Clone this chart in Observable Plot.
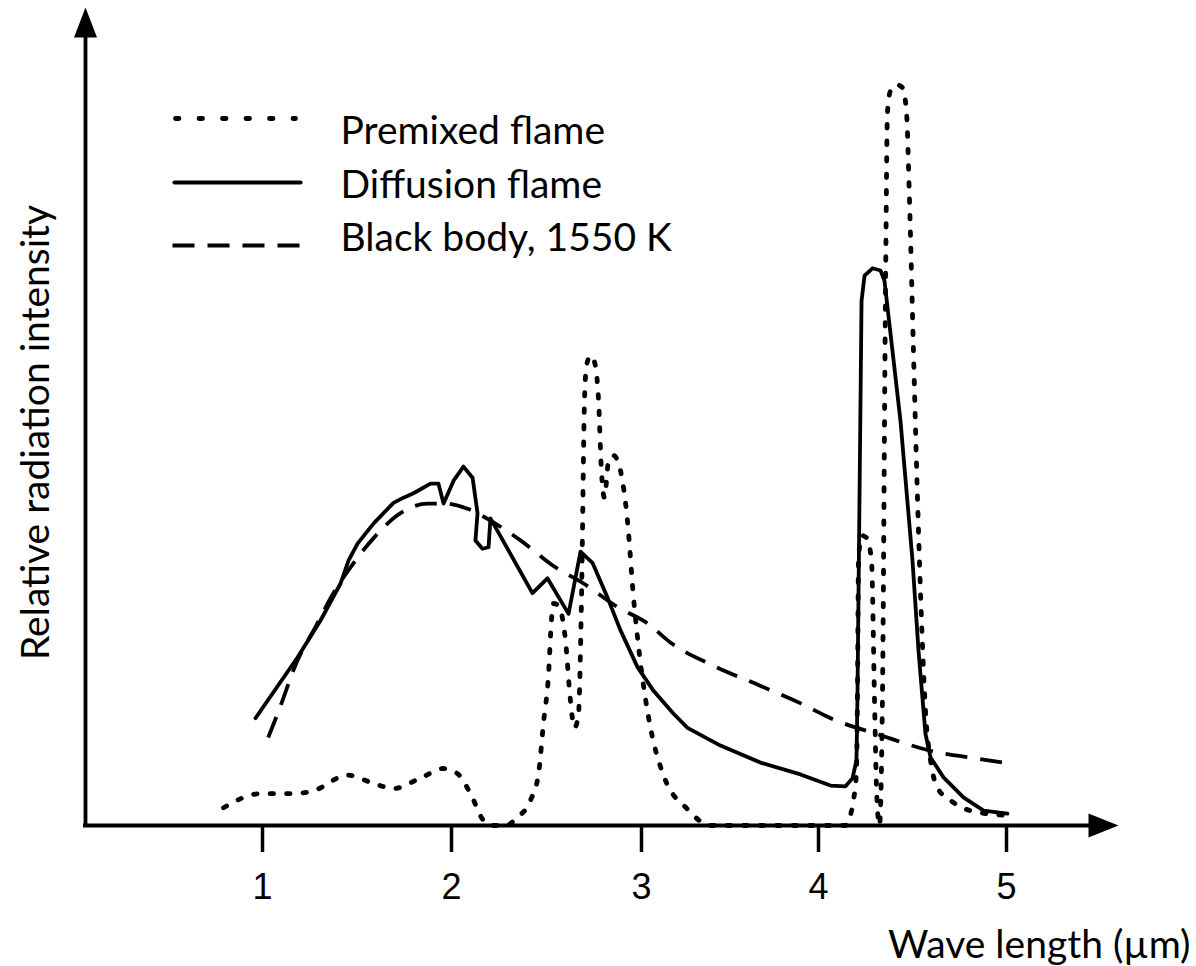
<!DOCTYPE html>
<html>
<head>
<meta charset="utf-8">
<script src="https://cdn.jsdelivr.net/npm/d3@7"></script>
<script src="https://cdn.jsdelivr.net/npm/@observablehq/plot@0.6"></script>
<style>
  html, body { margin: 0; padding: 0; background: #fff; }
  #chart svg { display: block; }
</style>
</head>
<body>
<div id="chart"></div>
<script>
// ---------- data ----------
const X_TICKS = [1, 2, 3, 4, 5];
const X_LABEL = "Wave length (µm)";
const Y_LABEL = "Relative radiation intensity";
const SERIES_NAMES = ["Premixed flame", "Diffusion flame", "Black body, 1550 K"];

const PREMIXED_X = [0.794,0.989,1.164,1.270,1.450,1.587,1.693,1.836,1.958,2.032,2.100,2.168,2.216,2.284,2.347,2.416,2.458,2.484,2.511,2.526,2.537,2.563,2.600,2.626,2.647,2.668,2.684,2.700,2.711,2.732,2.753,2.774,2.789,2.805,2.826,2.853,2.889,2.926,2.958,2.995,3.051,3.124,3.260,3.390,4.144,4.170,4.186,4.202,4.207,4.213,4.229,4.255,4.282,4.298,4.309,4.324,4.340,4.356,4.367,4.383,4.415,4.447,4.468,4.484,4.505,4.527,4.548,4.569,4.596,4.633,4.702,4.809,4.984];
const PREMIXED_Y = [2.4,4.3,4.3,4.7,6.8,5.7,5.0,6.4,7.7,7.0,4.3,0.7,0,0,1.1,3.4,7.0,13.8,20.5,27.7,30.0,29.7,25.0,16.9,13.2,14.9,30.4,57.4,62.2,63.5,62.6,57.4,48.0,44.3,49.1,50.0,48.0,41.2,30.8,21.9,13.2,6.8,2.2,0,0,1.4,3.4,7.4,16.9,35.8,39.2,38.9,35.8,16.9,4.7,0,16.9,70.9,96.4,99.3,100.1,99.7,96.4,84.5,64.2,43.9,27.7,15.5,8.8,5.1,3.4,2.0,1.4];

const DIFFUSION_X = [0.963,1.185,1.307,1.413,1.455,1.503,1.587,1.693,1.746,1.799,1.889,1.931,1.958,2.011,2.063,2.111,2.137,2.126,2.163,2.195,2.205,2.426,2.505,2.616,2.679,2.742,2.821,2.889,2.979,3.068,3.181,3.260,3.446,3.672,3.898,4.064,4.144,4.181,4.202,4.207,4.218,4.229,4.245,4.287,4.330,4.351,4.436,4.500,4.532,4.569,4.596,4.665,4.771,4.878,5.005];
const DIFFUSION_Y = [14.5,22.7,27.7,32.7,35.8,38.1,40.8,43.6,44.3,44.9,46.2,46.2,43.5,46.6,48.5,47.0,42.2,38.5,37.4,37.6,41.5,31.4,33.4,28.6,37.0,35.5,30.8,26.4,21.4,18.2,15.1,13.2,10.8,8.5,6.9,5.4,5.3,6.4,8.8,16.9,43.9,70.9,74.3,75.3,75.0,73.6,54.7,35.8,23.6,12.4,9.2,6.5,3.8,2.0,1.6];

const BLACKBODY_X = [1.03,1.08,1.185,1.28,1.375,1.48,1.59,1.73,1.875,1.96,2.085,2.205,2.365,2.535,2.695,2.875,3.035,3.165,3.405,3.67,3.9,4.065,4.33,4.595,4.825,5.01];
const BLACKBODY_Y = [11.9,15.1,22.3,26.8,31.4,35.4,38.9,42.2,43.5,43.5,42.8,41.2,38.5,35.1,32.7,29.5,27.3,24.7,21.6,18.9,16.5,14.5,12.2,10.1,9.1,8.4];

// ---------- layout ----------
const W = 1196, H = 966;
const FRAME = { left: 85, top: 85, right: 1190, bottom: 825 };
const X_TICK_POS = [262, 451, 641, 818, 1006];   // the reference's (uneven) tick positions
const Y_DOMAIN = [0, 100];
const FONT = "Lato";
const TICK_FONT = "Liberation Sans";
const TEXT_SIZE = 39;
const TICK_SIZE = 36;
const LINE_W = 3.8;

const xS = d3.scaleLinear().domain(X_TICKS).range(X_TICK_POS);
const yS = d3.scaleLinear().domain(Y_DOMAIN).range([FRAME.bottom, FRAME.top]);

const rows = (xs, ys) => xs.map((x, i) => ({ x, y: ys[i] }));
const premixed = rows(PREMIXED_X, PREMIXED_Y);
const diffusion = rows(DIFFUSION_X, DIFFUSION_Y);
const blackbody = rows(BLACKBODY_X, BLACKBODY_Y);

const DOTTED = { strokeWidth: 4.8, strokeDasharray: "3.5,13", strokeLinecap: "round" };
const DASHED = { strokeWidth: LINE_W, strokeDasharray: "22,13", strokeLinecap: "butt" };

// arrow heads (filled, elongated)
const arrowUp = { draw(ctx) { ctx.moveTo(0, -30); ctx.lineTo(11.5, 0); ctx.lineTo(-11.5, 0); ctx.closePath(); } };
const arrowRight = { draw(ctx) { ctx.moveTo(30, 0); ctx.lineTo(0, 12); ctx.lineTo(0, -12); ctx.closePath(); } };

// legend layout (pixels -> data through the same scales)
const LEG = [
  { name: SERIES_NAMES[0], y: 118, x1: 175, x2: 295, style: { strokeWidth: 4.8, strokeDasharray: "3.5,20", strokeLinecap: "round" }, ty: 143 },
  { name: SERIES_NAMES[1], y: 182, x1: 174, x2: 300, style: { strokeWidth: LINE_W + 0.4, strokeLinecap: "round" }, ty: 197 },
  { name: SERIES_NAMES[2], y: 245, x1: 172, x2: 300, style: { ...DASHED, strokeWidth: LINE_W + 0.4 }, ty: 250 }
];
const LEG_TEXT_X = 340;

const legendMarks = LEG.flatMap(l => [
  Plot.link([l], {
    x1: () => xS.invert(l.x1), x2: () => xS.invert(l.x2),
    y1: () => yS.invert(l.y), y2: () => yS.invert(l.y),
    stroke: "black", ...l.style
  }),
  Plot.text([l.name], {
    frameAnchor: "top-left", dx: LEG_TEXT_X - FRAME.left, dy: l.ty - FRAME.top,
    text: d => d, textAnchor: "start", lineAnchor: "bottom",
    fontFamily: FONT, fontSize: TEXT_SIZE, fill: "black"
  })
]);

const chart = Plot.plot({
  width: W, height: H,
  marginLeft: FRAME.left, marginTop: FRAME.top,
  marginRight: W - FRAME.right, marginBottom: H - FRAME.bottom,
  x: { type: "linear", domain: X_TICKS, range: X_TICK_POS, axis: null },
  y: { type: "linear", domain: Y_DOMAIN, axis: null },
  style: { background: "#fff", color: "black", overflow: "visible" },
  marks: [
    // axes
    Plot.ruleY([0], { x1: xS.invert(83), x2: xS.invert(1090), stroke: "black", strokeWidth: LINE_W }),
    Plot.ruleX([xS.invert(FRAME.left)], { y1: yS.invert(827), y2: yS.invert(35), stroke: "black", strokeWidth: LINE_W }),
    Plot.dot([0], { x: () => xS.invert(FRAME.left), y: () => yS.invert(37), symbol: arrowUp, fill: "black", stroke: "none" }),
    Plot.dot([0], { x: () => xS.invert(1088), y: () => 0, symbol: arrowRight, fill: "black", stroke: "none" }),
    // x ticks and tick labels
    Plot.ruleX(X_TICKS, { x: d => d, y1: 0, y2: yS.invert(852), stroke: "black", strokeWidth: 3.5 }),
    Plot.text(X_TICKS, {
      x: d => d, y: 0, dy: 898 - FRAME.bottom, text: d => String(d),
      lineAnchor: "bottom", textAnchor: "middle",
      fontSize: TICK_SIZE, fontFamily: TICK_FONT, fill: "black"
    }),
    // series
    Plot.line(blackbody, { x: "x", y: "y", stroke: "black", curve: "monotone-x", ...DASHED }),
    Plot.line(diffusion, { x: "x", y: "y", stroke: "black", strokeWidth: LINE_W, curve: "linear", strokeLinejoin: "round" }),
    Plot.line(premixed, { x: "x", y: "y", stroke: "black", curve: "monotone-x", ...DOTTED }),
    // legend
    ...legendMarks,
    // axis titles
    Plot.text([X_LABEL], {
      frameAnchor: "bottom-right", dx: 0, dy: 957 - FRAME.bottom,
      text: d => d, textAnchor: "end", lineAnchor: "bottom",
      fontFamily: FONT, fontSize: TEXT_SIZE, fill: "black"
    }),
    Plot.text([Y_LABEL], {
      frameAnchor: "left", dx: 48 - FRAME.left, dy: 432 - (FRAME.top + FRAME.bottom) / 2,
      text: d => d, rotate: -90, textAnchor: "middle", lineAnchor: "bottom",
      fontFamily: FONT, fontSize: TEXT_SIZE, fill: "black"
    })
  ]
});

document.getElementById("chart").appendChild(chart);
</script>
</body>
</html>
